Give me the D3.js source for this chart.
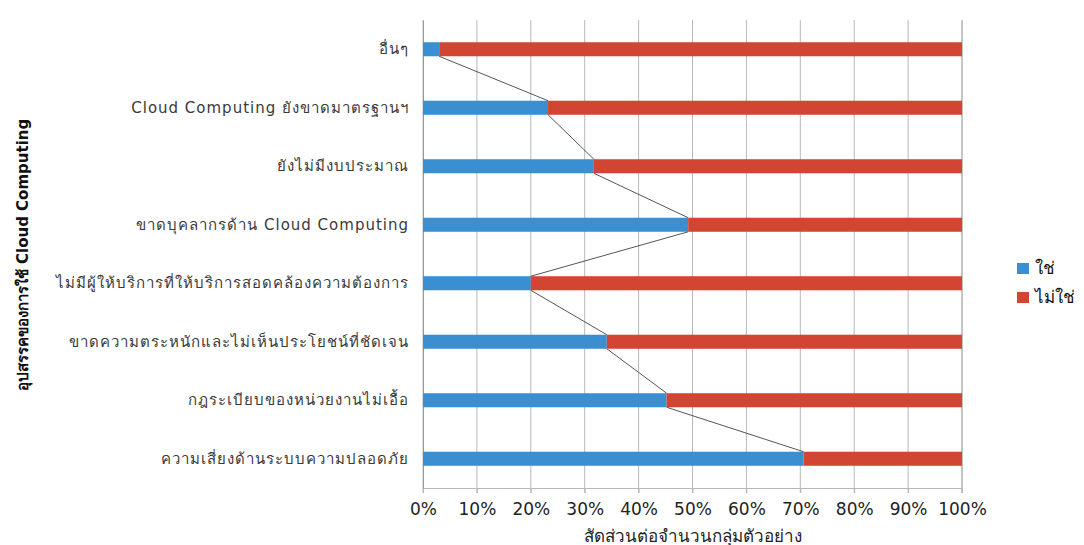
<!DOCTYPE html>
<html>
<head>
<meta charset="utf-8">
<script src="https://cdn.jsdelivr.net/npm/d3@7"></script>
<style>
  body { margin: 0; background: #fff; }
  text { font-family: Tahoma, "DejaVu Sans", "Noto Sans", sans-serif; }
</style>
</head>
<body>
<div id="chart"></div>
<script>
// categories, top to bottom
var categories = [
    'อื่นๆ',
    'Cloud Computing ยังขาดมาตรฐานฯ',
    'ยังไม่มีงบประมาณ',
    'ขาดบุคลากรด้าน Cloud Computing',
    'ไม่มีผู้ให้บริการที่ให้บริการสอดคล้องความต้องการ',
    'ขาดความตระหนักและไม่เห็นประโยชน์ที่ชัดเจน',
    'กฎระเบียบของหน่วยงานไม่เอื้อ',
    'ความเสี่ยงด้านระบบความปลอดภัย'
];
var yesValues = [3.0, 23.2, 31.7, 49.2, 20.0, 34.1, 45.2, 70.6];
var noValues = yesValues.map(v => 100 - v);
var seriesNames = ['ใช่', 'ไม่ใช่'];
var seriesColors = ['#3a8fd3', '#d24533'];
var xTicks = [0, 10, 20, 30, 40, 50, 60, 70, 80, 90, 100];

var svgWidth = 1084;
var svgHeight = 545;
var margin = {top: 20, left: 423, right: 122, bottom: 57};
var chartWidth = svgWidth - margin.left - margin.right;
var chartHeight = svgHeight - margin.top - margin.bottom;

var svg = d3.select('#chart')
    .append('svg')
    .attr('width', svgWidth)
    .attr('height', svgHeight);

var chartGroup = svg.append('g')
    .attr('transform', `translate(${margin.left}, ${margin.top})`);

// Scales
var xScale = d3.scaleLinear()
    .domain([0, 100])
    .range([0, chartWidth]);

var yScale = d3.scaleBand()
    .domain(categories)
    .range([0, chartHeight])
    .paddingInner(0.76)
    .paddingOuter(0.38);

// gridlines
chartGroup.selectAll('.grid')
    .data(xTicks)
    .enter()
    .append('line')
    .attr('x1', d => xScale(d))
    .attr('x2', d => xScale(d))
    .attr('y1', 0)
    .attr('y2', chartHeight + 5)
    .attr('stroke', d => d === 100 ? '#8a8a8a' : '#b8b8b8')
    .attr('stroke-width', 1);

// x axis
var xAxis = d3.axisBottom(xScale)
    .tickValues(xTicks)
    .tickFormat(d => d + '%')
    .tickSize(5)
    .tickPadding(10);

var xAxisGroup = chartGroup.append('g')
    .attr('transform', `translate(0, ${chartHeight})`)
    .call(xAxis);
xAxisGroup.select('.domain').attr('stroke', '#b8b8b8');
xAxisGroup.selectAll('.tick line').attr('stroke', '#b8b8b8');
xAxisGroup.selectAll('text')
    .attr('fill', '#222')
    .style('font-size', '17px');

// y axis
var yAxis = d3.axisLeft(yScale).tickSize(0).tickPadding(14);
var yAxisGroup = chartGroup.append('g').call(yAxis);
yAxisGroup.select('.domain').attr('stroke', '#999');
yAxisGroup.selectAll('text')
    .attr('fill', '#3a3a3a')
    .style('font-size', '15px')
    .style('letter-spacing', '1px');

// stacked bars
chartGroup.selectAll('.yes')
    .data(categories)
    .enter()
    .append('rect')
    .attr('x', xScale(0))
    .attr('y', d => yScale(d))
    .attr('width', (d, i) => xScale(yesValues[i]))
    .attr('height', yScale.bandwidth())
    .attr('fill', seriesColors[0]);

chartGroup.selectAll('.no')
    .data(categories)
    .enter()
    .append('rect')
    .attr('x', (d, i) => xScale(yesValues[i]))
    .attr('y', d => yScale(d))
    .attr('width', (d, i) => xScale(noValues[i]))
    .attr('height', yScale.bandwidth())
    .attr('fill', seriesColors[1]);

// series lines
chartGroup.selectAll('.serline')
    .data(categories.slice(0, -1))
    .enter()
    .append('line')
    .attr('x1', (d, i) => xScale(yesValues[i]))
    .attr('y1', d => yScale(d) + yScale.bandwidth())
    .attr('x2', (d, i) => xScale(yesValues[i + 1]))
    .attr('y2', (d, i) => yScale(categories[i + 1]))
    .attr('stroke', '#555')
    .attr('stroke-width', 1);

// axis titles
svg.append('text')
    .attr('transform', 'rotate(-90)')
    .attr('x', -255)
    .attr('y', 28)
    .attr('text-anchor', 'middle')
    .attr('fill', '#111')
    .style('font-size', '15px')
    .style('font-weight', 'bold')
    .text('อุปสรรคของการใช้ Cloud Computing');

svg.append('text')
    .attr('x', margin.left + chartWidth / 2)
    .attr('y', 542)
    .attr('text-anchor', 'middle')
    .attr('fill', '#222')
    .style('font-size', '17px')
    .text('สัดส่วนต่อจำนวนกลุ่มตัวอย่าง');

// legend
var legend = svg.selectAll('.legend')
    .data(seriesNames)
    .enter()
    .append('g')
    .attr('transform', (d, i) => `translate(1017, ${263 + i * 29})`);

legend.append('rect')
    .attr('width', 12)
    .attr('height', 11)
    .attr('fill', (d, i) => seriesColors[i]);

legend.append('text')
    .attr('x', 18)
    .attr('y', 11)
    .attr('fill', '#111')
    .style('font-size', '17px')
    .text(d => d);
</script>
</body>
</html>
